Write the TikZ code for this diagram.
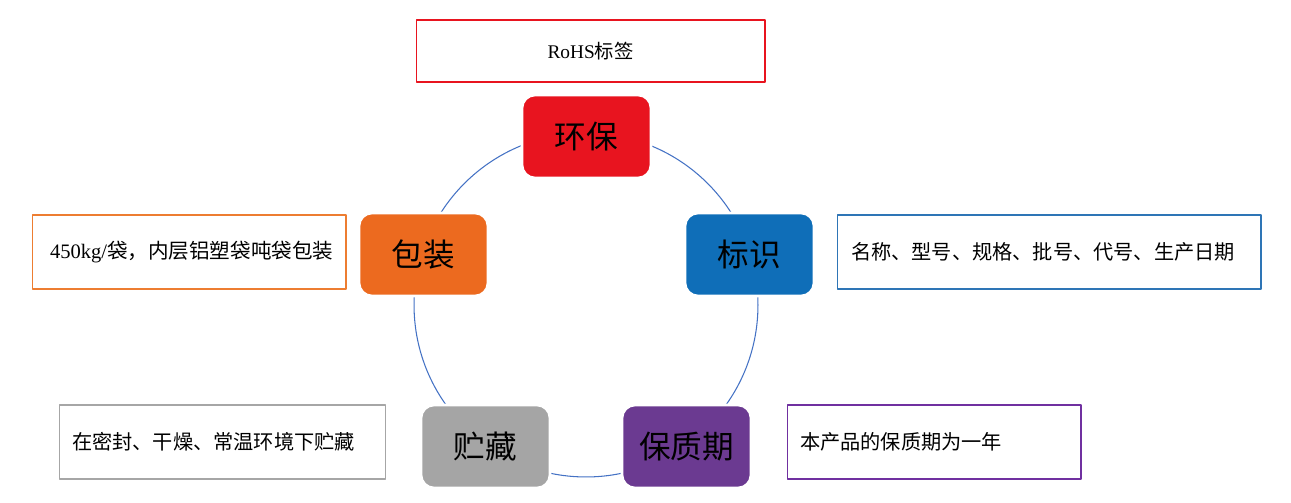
\documentclass[tikz,border=0pt]{standalone}
\usepackage{fontspec}
\setmainfont{Liberation Serif}
\newfontfamily\cjk{Noto Sans CJK SC}
\definecolor{hbred}{HTML}{E8141F}
\definecolor{bsblue}{HTML}{0F6EB8}
\definecolor{bzorange}{HTML}{EC6A1F}
\definecolor{zcgray}{HTML}{A5A5A5}
\definecolor{bzqpurple}{HTML}{6B3A91}
\definecolor{ringblue}{HTML}{4472C4}
\definecolor{bsline}{HTML}{2E75B6}
\definecolor{bzline}{HTML}{ED7D31}
\definecolor{zcline}{HTML}{A6A6A6}
\definecolor{bzqline}{HTML}{7030A0}
\tikzset{
  keybox/.style={rounded corners=0.26cm,minimum width=2.58cm,minimum height=1.66cm,
    draw=white,line width=1.5pt,inner sep=0pt,font=\cjk\fontsize{18}{18}\selectfont,text=black},
  notebox/.style={draw=#1,line width=0.6pt,minimum height=1.48cm,inner ysep=0pt,
    align=left,font=\fontsize{11.5}{13}\selectfont,text=black}
}
\begin{document}
\begin{tikzpicture}[x=0.02cm,y=-0.02cm,line join=round,line cap=round]
	\useasboundingbox (0,0) rectangle (1291,503);
	\coordinate (mid) at (586,305);
	\draw[ringblue,line width=0.6pt] (mid) circle[radius=3.44cm];
	% main keys
	\node[keybox,fill=hbred] (hb) at (586.5,136.5) {环保};
	\node[keybox,fill=bsblue] (bs) at (749.5,254.5) {标识};
	\node[keybox,fill=bzorange] (bz) at (423.5,254.5) {包装};
	\node[keybox,fill=zcgray] (zc) at (485.5,446.5) {贮藏};
	\node[keybox,fill=bzqpurple] (bzq) at (686.5,446.5) {保质期};
	% notes
	\node[notebox=hbred,minimum width=6.98cm,minimum height=1.24cm,align=center,
		font=\fontsize{11}{13}\selectfont] (hbnote) at (590.5,51) {RoHS{\cjk 标签}};
	\node[notebox=bzline,minimum width=6.28cm,inner xsep=0.36cm,text width=5.56cm,
		font=\fontsize{11.7}{13}\selectfont] (bznote) at (189,252)
		{450kg/{\cjk 袋，内层铝塑袋吨袋包装}};
	\node[notebox=bsline,minimum width=8.48cm,inner xsep=0.28cm,text width=7.92cm,
		font=\cjk\fontsize{11.5}{14}\selectfont] (bsnote) at (1049,252) {名称、型号、规格、批号、代号、生产日期};
	\node[notebox=zcline,minimum width=6.54cm,inner xsep=0.26cm,text width=6.02cm,
		font=\cjk\fontsize{11.5}{13}\selectfont] (zcnote) at (222.5,442) {在密封、干燥、常温环境下贮藏};
	\node[notebox=bzqline,minimum width=5.88cm,inner xsep=0.26cm,text width=5.36cm,
		font=\cjk\fontsize{11.5}{13}\selectfont] (bzqnote) at (934,442) {本产品的保质期为一年};
\end{tikzpicture}
\end{document}
